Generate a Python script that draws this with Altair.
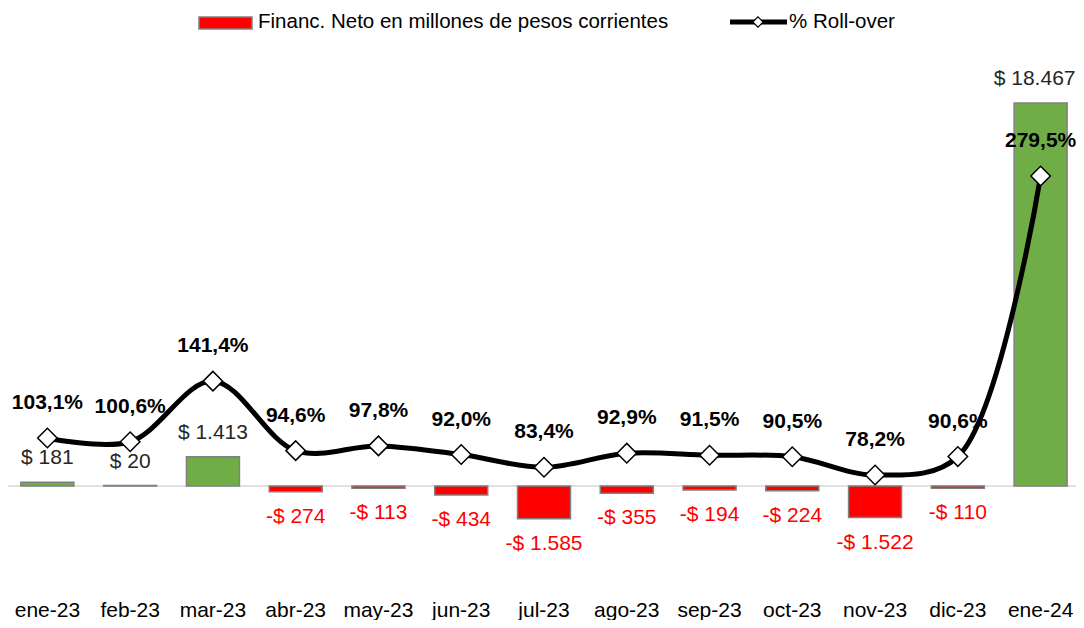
import altair as alt
import pandas as pd

months = ["ene-23", "feb-23", "mar-23", "abr-23", "may-23", "jun-23", "jul-23",
          "ago-23", "sep-23", "oct-23", "nov-23", "dic-23", "ene-24"]
financ = [181, 20, 1413, -274, -113, -434, -1585, -355, -194, -224, -1522, -110, 18467]
rollover = [103.1, 100.6, 141.4, 94.6, 97.8, 92.0, 83.4, 92.9, 91.5, 90.5, 78.2, 90.6, 279.5]


def fmt_money(v):
    s = f"{abs(v):,}".replace(",", ".")
    return ("-$ " if v < 0 else "$ ") + s


df = pd.DataFrame({
    "mes": months,
    "fin": financ,
    "roll": rollover,
})
df["fin_lbl"] = [fmt_money(v) for v in financ]
df["roll_lbl"] = [f"{v:.1f}".replace(".", ",") + "%" for v in rollover]
df["signo"] = ["pos" if v >= 0 else "neg" for v in financ]

FONT = "Liberation Sans"
W, H = 1068, 589
BAR_DOM = [-5352, 23047]
LINE_DOM = [-3.93, 392.6]

x = alt.X("mes:N", sort=months, title=None,
          scale=alt.Scale(range=[-2, 1074], paddingInner=0, paddingOuter=0),
          axis=alt.Axis(labelAngle=0, ticks=False, domain=False, labelFontSize=21,
                        labelColor="#000000", labelFont=FONT, labelPadding=2, grid=False))

ybar = alt.Y("fin:Q", title=None, axis=None,
             scale=alt.Scale(domain=BAR_DOM, nice=False, zero=False))
yline = alt.Y("roll:Q", title=None, axis=None,
              scale=alt.Scale(domain=LINE_DOM, nice=False, zero=False))

base = alt.Chart(df)

zero = alt.Chart(alt.Data(values=[{"z": 0}])).mark_rule(color="#d9d9d9", strokeWidth=1.5).encode(
    y=alt.Y("z:Q", axis=None, scale=alt.Scale(domain=BAR_DOM, nice=False, zero=False)),
    x=alt.value(0), x2=alt.value(W),
)

bars = base.mark_bar(width=53, stroke="#808080", strokeWidth=1.5).encode(
    x=x, y=ybar,
    color=alt.Color("signo:N", legend=None,
                    scale=alt.Scale(domain=["pos", "neg"], range=["#70AD47", "#FF0000"])),
)

lbl_pos = base.transform_filter("datum.fin >= 0 && datum.fin < 10000").mark_text(
    dy=-24, fontSize=21, font=FONT, color="#262626", baseline="middle").encode(
    x=x, y=ybar, text="fin_lbl:N")
lbl_big = base.transform_filter("datum.fin >= 10000").mark_text(
    dy=-24, dx=-6, fontSize=21, font=FONT, color="#262626", baseline="middle").encode(
    x=x, y=ybar, text="fin_lbl:N")
lbl_neg = base.transform_filter("datum.fin < 0").mark_text(
    dy=25, fontSize=21, font=FONT, color="#FF0000", baseline="middle").encode(
    x=x, y=ybar, text="fin_lbl:N")

line = base.mark_line(color="#000000", strokeWidth=5, interpolate="catmull-rom").encode(
    x=x, y=yline)
pts = base.mark_point(shape="diamond", size=380, filled=True, fill="#FFFFFF",
                      stroke="#000000", strokeWidth=1.5, opacity=1).encode(x=x, y=yline)
roll_lbl = base.mark_text(dy=-35, fontSize=21, fontWeight="bold", font=FONT,
                          color="#000000", baseline="middle").encode(
    x=x, y=yline, text="roll_lbl:N")

one = alt.Data(values=[{}])
leg_rect = alt.Chart(one).mark_rect(color="#FF0000", stroke="#808080", strokeWidth=1.5).encode(
    x=alt.value(191), x2=alt.value(244), y=alt.value(9), y2=alt.value(21))
leg_txt1 = alt.Chart(one).mark_text(align="left", baseline="middle", fontSize=20.5, font=FONT,
                                    color="#000000").encode(
    x=alt.value(250), y=alt.value(14), text=alt.value("Financ. Neto en millones de pesos corrientes"))
leg_line = alt.Chart(one).mark_rule(color="#000000", strokeWidth=5).encode(
    x=alt.value(722), x2=alt.value(779), y=alt.value(14))
leg_pt = alt.Chart(one).mark_point(shape="diamond", size=110, filled=True, fill="#FFFFFF",
                                   stroke="#000000", strokeWidth=1.2, opacity=1).encode(
    x=alt.value(750), y=alt.value(14))
leg_txt2 = alt.Chart(one).mark_text(align="left", baseline="middle", fontSize=20.5, font=FONT,
                                    color="#000000").encode(
    x=alt.value(781), y=alt.value(14), text=alt.value("% Roll-over"))

bar_layer = alt.layer(zero, bars, lbl_pos, lbl_big, lbl_neg)
line_layer = alt.layer(line, pts, roll_lbl)

chart = alt.layer(
    bar_layer, line_layer, leg_rect, leg_txt1, leg_line, leg_pt, leg_txt2
).resolve_scale(y="independent").properties(
    width=W, height=H,
    autosize=alt.AutoSizeParams(type="none"),
    padding={"left": 0, "top": 0, "right": 0, "bottom": 23},
    background="#FFFFFF",
).configure_view(stroke=None)

chart.save("out.html", embed_options={"renderer": "svg", "actions": False})
